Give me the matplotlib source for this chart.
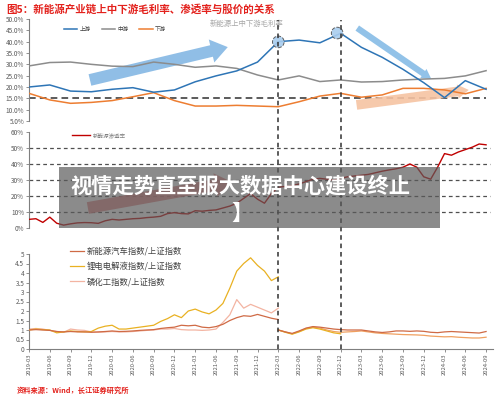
import matplotlib
matplotlib.use("Agg")
import matplotlib.pyplot as plt
from matplotlib.patches import Rectangle
import numpy as np

plt.rcParams['font.family'] = ['Noto Sans CJK SC', 'DejaVu Sans']
plt.rcParams['axes.unicode_minus'] = False

W, H = 500, 397

# ---------------- data ----------------
tick_labels = ["2019-03", "2019-06", "2019-09", "2019-12", "2020-03", "2020-06", "2020-09",
               "2020-12", "2021-03", "2021-06", "2021-09", "2021-12", "2022-03", "2022-06",
               "2022-09", "2022-12", "2023-03", "2023-06", "2023-09", "2023-12", "2024-03",
               "2024-06", "2024-09"]
tick_months = [3 * i for i in range(len(tick_labels))]   # months since 2019-03

# gross margin (%) - quarterly
q_months = tick_months
upstream = [20.0, 20.9, 18.2, 17.9, 19.0, 19.7, 17.7, 18.7, 22.3, 24.9, 27.1, 31.0,
            40.0, 40.7, 39.5, 43.7, 37.5, 33.1, 27.8, 21.9, 15.3, 22.8, 19.0]
midstream = [29.3, 30.8, 31.0, 30.0, 29.2, 29.0, 31.0, 30.0, 28.7, 29.3, 28.2, 25.3,
             23.1, 24.9, 22.4, 23.1, 22.2, 22.4, 23.1, 23.5, 23.8, 24.9, 27.2]
downstream = [17.2, 14.3, 12.8, 13.2, 14.0, 15.7, 17.5, 14.0, 11.6, 11.6, 11.9, 11.6,
              11.3, 13.5, 16.0, 17.2, 15.5, 16.5, 19.4, 19.4, 18.7, 17.0, 19.4]

# NEV penetration (%) - monthly
pen_months = list(range(67))
penetration = [5.4, 5.8, 3.5, 6.8, 3.0, 1.8, 2.6, 3.2, 3.4, 3.3, 2.9, 4.5,
               5.4, 5.0, 5.4, 5.8, 6.0, 6.5, 6.8, 7.3, 9.0, 9.6, 9.0, 8.8,
               10.8, 10.5, 11.0, 11.3, 12.5, 13.7, 15.5, 18.5, 21.5, 18.0, 15.5, 21.5,
               25.5, 26.0, 26.5, 27.5, 29.0, 30.5, 31.0, 30.5, 30.0, 31.0, 32.0, 32.5,
               33.0, 33.5, 34.5, 35.5, 36.3, 37.0, 38.0, 40.0, 38.0, 32.0, 30.5, 38.0,
               46.5, 45.5, 47.5, 49.0, 50.5, 52.5, 52.0]

# relative indices - first segment 2019-03 .. 2022-03
seg1_months = list(range(37))
nev_1 = [1.0, 1.02, 1.0, 0.98, 0.92, 0.9, 0.92, 0.9, 0.9, 0.88, 0.9, 0.92,
         0.95, 0.92, 0.93, 0.95, 0.98, 1.0, 1.02, 1.08, 1.12, 1.15, 1.25, 1.22,
         1.25, 1.15, 1.12, 1.18, 1.3, 1.5, 1.65, 1.75, 1.72, 1.82, 1.72, 1.62, 1.55]
lith_1 = [1.0, 1.05, 1.02, 1.0, 0.85, 0.9, 0.95, 0.92, 0.9, 0.92, 1.1, 1.2,
          1.25, 1.05, 1.05, 1.1, 1.15, 1.2, 1.25, 1.45, 1.6, 1.8, 1.65, 2.0,
          2.1, 1.95, 1.85, 2.05, 2.4, 3.2, 4.1, 4.5, 4.8, 4.4, 4.1, 3.6, 3.8]
phos_1 = [1.05, 1.08, 1.05, 0.98, 0.92, 0.88, 1.05, 1.0, 0.98, 0.9, 0.88, 0.9,
          0.92, 0.9, 0.9, 0.92, 0.95, 0.98, 1.0, 1.05, 1.05, 1.08, 1.02, 1.0,
          1.0, 0.98, 1.0, 1.05, 1.4, 1.8, 2.6, 2.15, 2.35, 2.2, 2.05, 1.9, 2.15]
# second segment (re-based at 2022-03)
seg2_months = list(range(36, 67))
nev_2 = [1.0, 0.9, 0.82, 0.95, 1.1, 1.18, 1.15, 1.1, 1.05, 1.02, 1.0, 1.0,
         1.0, 0.95, 0.9, 0.87, 0.9, 0.95, 0.95, 0.93, 0.95, 0.93, 0.88, 0.86,
         0.9, 0.92, 0.9, 0.88, 0.86, 0.84, 0.92]
lith_2_months = list(range(36, 46))
lith_2 = [1.0, 0.88, 0.78, 0.9, 1.05, 1.12, 1.05, 0.95, 0.85, 0.8]
phos_2 = [1.0, 0.9, 0.8, 0.92, 1.08, 1.15, 1.1, 1.0, 0.92, 0.88, 0.9, 0.92,
          0.95, 0.9, 0.85, 0.82, 0.8, 0.78, 0.76, 0.75, 0.74, 0.72, 0.68, 0.66,
          0.64, 0.65, 0.62, 0.6, 0.58, 0.58, 0.62]

event_months = [36, 45]   # 2022-03, 2022-12

TITLE = "图5：新能源产业链上中下游毛利率、渗透率与股价的关系"
SOURCE = "资料来源：Wind，长江证券研究所"
BANNER = "视情走势直至服大数据中心建设终止"

# ---------------- figure ----------------
fig = plt.figure(figsize=(W / 100, H / 100), dpi=100)
fig.patch.set_facecolor("white")


def ax_px(left, top, right, bottom):
    return fig.add_axes([left / W, 1 - bottom / H, (right - left) / W, (bottom - top) / H])


XL = (0, 67)
TICKC = "#595959"
SPINEC = "#7f7f7f"


def style_left(ax):
    for s in ("top", "right", "bottom"):
        ax.spines[s].set_visible(False)
    ax.spines["left"].set_color(SPINEC)
    ax.spines["left"].set_linewidth(0.8)
    ax.tick_params(axis="y", labelsize=4.6, colors=SPINEC, labelcolor=TICKC,
                   length=2, width=0.6, pad=1.5)
    ax.set_facecolor("none")


# ---- panel 1: gross margins ----
ax1 = ax_px(29, 19, 493, 121)
ax1.set_xlim(*XL)
ax1.set_ylim(5, 50)
style_left(ax1)
ax1.set_xticks([])
ax1.set_yticks(np.arange(5, 51, 5))
ax1.set_yticklabels([f"{v:.1f}%" for v in np.arange(5, 51, 5)])
ax1.hlines(15, 0, 66, colors="#404040", linestyles=(0, (4, 2.5)), linewidth=1.2, zorder=2)
l_up, = ax1.plot(q_months, upstream, color="#2e75b6", lw=1.1, label="上游", zorder=4)
l_mid, = ax1.plot(q_months, midstream, color="#8c8c8c", lw=1.1, label="中游", zorder=3)
l_dn, = ax1.plot(q_months, downstream, color="#ed7d31", lw=1.1, label="下游", zorder=3)
ax1.legend(handles=[l_up, l_mid, l_dn], loc="center", bbox_to_anchor=(0.185, 0.90),
           ncol=3, frameon=False, fontsize=4, handlelength=2.4, handletextpad=0.4,
           columnspacing=2.0, labelcolor="#404040")
ax1.text(0.39, 0.95, "新能源上中下游毛利率", transform=ax1.transAxes, fontsize=5.3,
         color="#a6a6a6", va="center", ha="left")
# decorative arrows
ax1.annotate("", xy=(28.7, 37.6), xytext=(8.8, 23.1),
             arrowprops=dict(arrowstyle="simple,tail_width=0.85,head_width=1.7,head_length=1.2",
                             mutation_scale=10, color="#7db3e2", alpha=0.85, lw=0,
                             shrinkA=0, shrinkB=0), zorder=2)
ax1.annotate("", xy=(58.1, 23.5), xytext=(47.4, 46.0),
             arrowprops=dict(arrowstyle="simple,tail_width=0.45,head_width=0.8,head_length=0.7",
                             mutation_scale=10, color="#86bce6", alpha=0.9, lw=0,
                             shrinkA=0, shrinkB=0), zorder=2)
ax1.annotate("", xy=(63.5, 18.7), xytext=(47.3, 12.1),
             arrowprops=dict(arrowstyle="simple,tail_width=0.7,head_width=1.0,head_length=0.8",
                             mutation_scale=10, color="#f6c3a2", alpha=0.9, lw=0,
                             shrinkA=0, shrinkB=0), zorder=2)
ax1.scatter([36, 44.5], [39.9, 43.8], s=70, facecolors="#a9cdef", edgecolors="#505050",
            linewidths=0.7, linestyles="--", alpha=0.9, zorder=5)

# ---- panel 2: penetration ----
ax2 = ax_px(29, 132, 493, 228)
ax2.set_xlim(*XL)
ax2.set_ylim(0, 60)
style_left(ax2)
ax2.set_xticks([])
ax2.set_yticks(np.arange(0, 61, 10))
ax2.set_yticklabels([f"{v}%" for v in range(0, 61, 10)])
ax2.hlines(np.arange(10, 51, 10), 0, 66.5, colors="#505050", linestyles=(0, (3, 2.5)),
           linewidth=0.9, zorder=1)
ax2.annotate("", xy=(29.3, 28.75), xytext=(8.5, 12.5),
             arrowprops=dict(arrowstyle="simple,tail_width=0.85,head_width=1.7,head_length=1.2",
                             mutation_scale=10, color="#e07a7a", alpha=0.85, lw=0,
                             shrinkA=0, shrinkB=0), zorder=2)
l_pen, = ax2.plot(pen_months, penetration, color="#c00000", lw=1.0, label="新能源渗透率", zorder=3)
ax2.legend(handles=[l_pen], loc="center", bbox_to_anchor=(0.15, 0.97), frameon=False,
           fontsize=4, handlelength=3.2, handletextpad=0.5, labelcolor="#808080")

# ---- panel 3: relative indices ----
ax3 = ax_px(29, 254, 493, 349)
ax3.set_xlim(*XL)
ax3.set_ylim(0, 5)
style_left(ax3)
ax3.spines["bottom"].set_visible(True)
ax3.spines["bottom"].set_color(SPINEC)
ax3.spines["bottom"].set_linewidth(0.8)
ax3.set_yticks(np.arange(0, 5.01, 0.5))
ax3.set_yticklabels([f"{v:g}" for v in np.arange(0, 5.01, 0.5)])
ax3.set_xticks(tick_months)
ax3.set_xticklabels(tick_labels, rotation=90, fontsize=4.2, color=TICKC)
ax3.tick_params(axis="x", length=2, width=0.6, colors=SPINEC, labelcolor=TICKC, pad=1.5)
c_nev, c_lith, c_phos = "#cf6a45", "#e9b122", "#f3b4a2"
h_nev, = ax3.plot(seg1_months, nev_1, color=c_nev, lw=0.9, zorder=4, label="新能源汽车指数/上证指数")
h_lith, = ax3.plot(seg1_months, lith_1, color=c_lith, lw=0.9, zorder=3, label="锂电电解液指数/上证指数")
h_phos, = ax3.plot(seg1_months, phos_1, color=c_phos, lw=0.9, zorder=2, label="磷化工指数/上证指数")
ax3.plot(seg2_months, phos_2, color="#f0a060", lw=0.9, zorder=2)
ax3.plot(lith_2_months, lith_2, color=c_lith, lw=0.9, zorder=3)
ax3.plot(seg2_months, nev_2, color=c_nev, lw=0.9, zorder=4)
leg3 = ax3.legend(handles=[h_nev, h_lith, h_phos], loc="center", bbox_to_anchor=(0.21, 0.87),
                  frameon=False, fontsize=6, handlelength=1.6, handletextpad=0.4,
                  labelspacing=0.75, labelcolor="#404040")
leg3.set_clip_on(False)

# ---- event vertical lines spanning all panels ----
axv = ax_px(29, 20, 493, 349)
axv.set_xlim(*XL)
axv.set_ylim(0, 1)
axv.axis("off")
for m in event_months:
    axv.axvline(m, color="#303030", lw=1.1, linestyle=(0, (3, 2.5)), zorder=6)

# ---- titles ----
fig.text(0.012, 1 - 9 / H, TITLE, color="#e3211c", fontsize=7.6, fontweight="bold",
         va="center", ha="left")
fig.text(0.034, 1 - 390 / H, SOURCE, color="#e3211c", fontsize=5.2, fontweight="bold",
         va="center", ha="left")

# ---- overlay banner ----
fig.patches.append(Rectangle((59 / W, 1 - 228 / H), 381 / W, 61 / H, transform=fig.transFigure,
                             facecolor="#5a5a5a", alpha=0.7, edgecolor="none", zorder=10))
fig.text(240 / W, 1 - 186 / H, BANNER, color="white", fontsize=15.3, fontweight="bold",
         va="center", ha="center", zorder=11)
fig.text(242 / W, 1 - 213 / H, "】", color="white", fontsize=15.3, fontweight="bold",
         va="center", ha="center", zorder=11)

fig.savefig("out.png", dpi=100, facecolor="white")
